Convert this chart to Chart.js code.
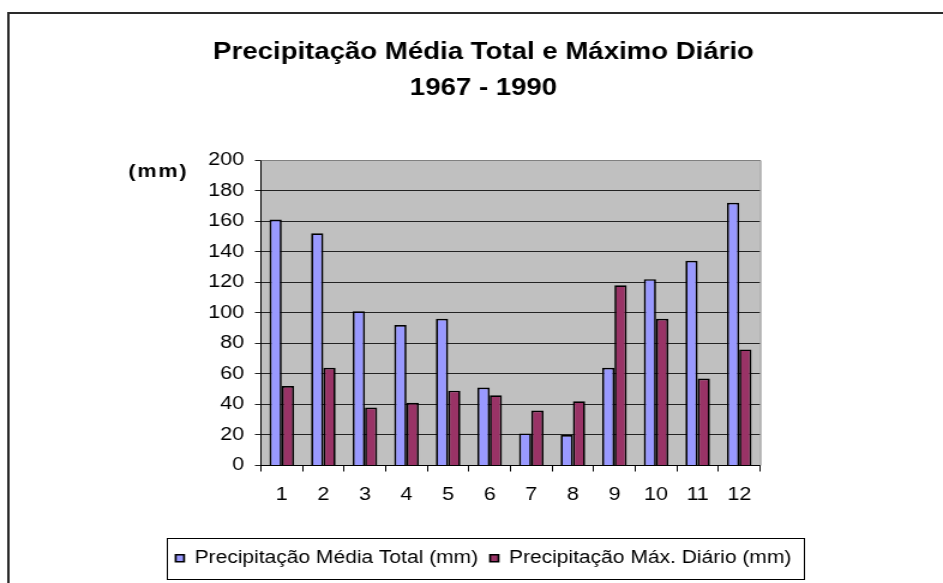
<!DOCTYPE html>
<html>
<head>
<meta charset="utf-8">
<script src="https://cdn.jsdelivr.net/npm/chart.js@4.4.1/dist/chart.umd.min.js"></script>
<style>
  html, body { margin: 0; padding: 0; background: #fff; overflow: hidden; }
  #chart { display: block; }
</style>
</head>
<body>
<!-- the original (Excel) text is drawn horizontally widened, so the canvas is stretched by CSS -->
<canvas id="chart" width="786" height="583" style="width:943px;height:583px"></canvas>
<script>
// data
const months = ['1', '2', '3', '4', '5', '6', '7', '8', '9', '10', '11', '12'];
const mediaTotal = [161, 152, 101, 92, 96, 51, 21, 20, 64, 122, 134, 172];
const maxDiario = [52, 64, 38, 41, 49, 46, 36, 42, 118, 96, 57, 76];
const seriesNames = ['Precipitação Média Total (mm)', 'Precipitação Máx. Diário (mm)'];
const titleLines = ['Precipitação Média Total e Máximo Diário', '1967 - 1990'];
const yUnit = '(mm)';

const FONT = '"Liberation Sans", Arial, sans-serif';

const excelLook = {
  id: 'excelLook',
  beforeDraw(chart) {
    const { ctx, chartArea: a } = chart;
    ctx.save();
    ctx.fillStyle = '#C0C0C0';
    ctx.fillRect(a.left, a.top, a.right - a.left, a.bottom - a.top);
    ctx.restore();
  },
  afterDraw(chart) {
    const { ctx, chartArea: a, legend } = chart;
    ctx.save();
    // outer chart frame
    ctx.strokeStyle = '#2a2a2a';
    ctx.lineWidth = 2;
    ctx.strokeRect(7, 13, 1000, 1000);
    // plot border top / right
    ctx.strokeStyle = '#808080';
    ctx.lineWidth = 1;
    ctx.beginPath();
    ctx.moveTo(a.left, a.top + 0.5);
    ctx.lineTo(a.right + 0.5, a.top + 0.5);
    ctx.lineTo(a.right + 0.5, a.bottom);
    ctx.stroke();
    // title
    const cx = (legend.left + legend.right) / 2;
    ctx.fillStyle = '#000';
    ctx.textAlign = 'center';
    ctx.textBaseline = 'middle';
    ctx.font = 'bold 23px ' + FONT;
    ctx.fillText(titleLines[0], cx, 53);
    ctx.fillText(titleLines[1], cx, 89);
    // y unit
    ctx.font = 'bold 18px ' + FONT;
    if ('letterSpacing' in ctx) ctx.letterSpacing = '1.5px';
    ctx.fillText(yUnit, 132, 172);
    if ('letterSpacing' in ctx) ctx.letterSpacing = '0px';
    // legend frame around the items
    const hb = legend.legendHitBoxes;
    const l = Math.min(...hb.map(b => b.left)) - 7;
    const r = Math.max(...hb.map(b => b.left + b.width)) + 11;
    const cy = hb[0].top + hb[0].height / 2;
    ctx.strokeStyle = '#000';
    ctx.lineWidth = 1;
    ctx.strokeRect(Math.round(l) + 0.5, Math.round(cy - 20.5) + 0.5, Math.round(r - l), 41);
    ctx.restore();
  }
};

new Chart(document.getElementById('chart'), {
  type: 'bar',
  data: {
    labels: months,
    datasets: [
      { label: seriesNames[0], data: mediaTotal, backgroundColor: '#9999FF', borderColor: '#000', borderWidth: 1.7 },
      { label: seriesNames[1], data: maxDiario, backgroundColor: '#993366', borderColor: '#000', borderWidth: 1.7 }
    ]
  },
  options: {
    responsive: false,
    animation: false,
    devicePixelRatio: 1,
    layout: { padding: { left: 20, right: 0, top: 160, bottom: 6 } },
    datasets: { bar: { categoryPercentage: 0.59, barPercentage: 1 } },
    plugins: {
      title: { display: false },
      legend: {
        position: 'bottom',
        labels: {
          color: '#000',
          font: { family: FONT, size: 17.5 },
          boxWidth: 7,
          boxHeight: 7,
          padding: 10,
          useBorderRadius: false
        }
      },
      tooltip: { enabled: false }
    },
    scales: {
      x: {
        afterFit: (s) => { s.height = 74; },
        grid: { display: true, drawOnChartArea: false, drawTicks: true, tickLength: 6, color: '#000', offset: true },
        border: { display: true, color: '#000', width: 1 },
        ticks: { color: '#000', font: { family: FONT, size: 18 }, padding: 13 }
      },
      y: {
        min: 0,
        max: 200,
        afterFit: (s) => { s.width = 197.5; },
        grid: { color: '#222', lineWidth: 1, drawTicks: true, tickLength: 5 },
        border: { display: true, color: '#000', width: 1 },
        ticks: { stepSize: 20, color: '#000', font: { family: FONT, size: 18 }, padding: 9 }
      },
      // empty right-hand box that keeps the plot where the original has it
      yRight: {
        position: 'right',
        afterFit: (s) => { s.width = 152.5; },
        grid: { display: false },
        border: { display: false },
        ticks: { display: false }
      }
    }
  },
  plugins: [excelLook]
});
</script>
</body>
</html>
